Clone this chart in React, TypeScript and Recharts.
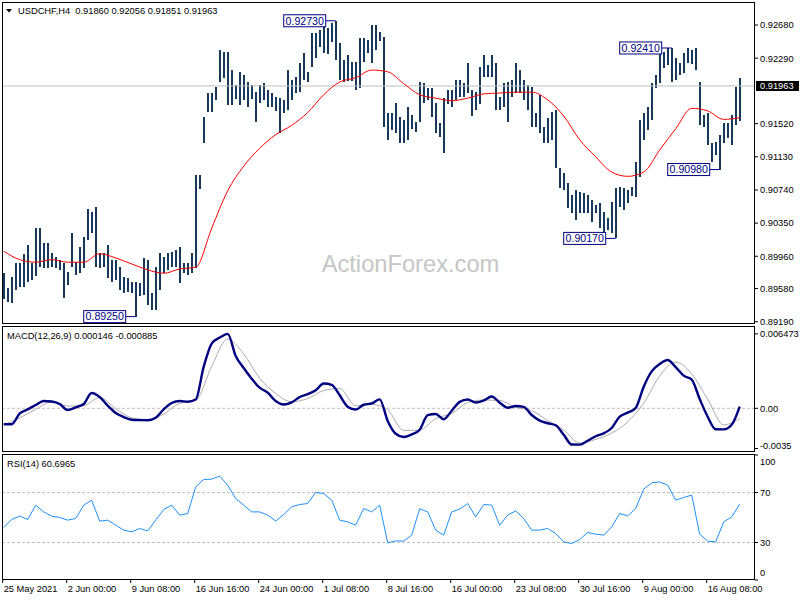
import React from 'react'
import { ComposedChart, Bar, Line, XAxis, YAxis, ReferenceLine, ReferenceDot } from 'recharts'

// H4 bars, merged in pairs (8h each)
const highs = [
  0.8976, 0.8959, 0.8972, 0.8988, 0.8988, 0.8999, 0.9009, 0.8988, 0.9029, 0.9029,
  0.9012, 0.9012, 0.9000, 0.8995, 0.8992, 0.8988, 0.8977, 0.9023, 0.8989, 0.9007,
  0.9019, 0.9052, 0.9048, 0.9054, 0.9000, 0.9000, 0.9009, 0.8992, 0.8992, 0.8983,
  0.8972, 0.8970, 0.8966, 0.8966, 0.8965, 0.8994, 0.8992, 0.8953, 0.8983, 0.9000,
  0.8995, 0.9000, 0.9001, 0.9003, 0.9007, 0.8988, 0.8988, 0.9000, 0.9092, 0.9092,
  0.9160, 0.9188, 0.9188, 0.9195, 0.9239, 0.9236, 0.9236, 0.9215, 0.9197, 0.9213,
  0.9209, 0.9201, 0.9197, 0.9189, 0.9197, 0.9200, 0.9192, 0.9188, 0.9183, 0.9182,
  0.9180, 0.9215, 0.9203, 0.9207, 0.9223, 0.9235, 0.9213, 0.9259, 0.9259, 0.9262,
  0.9272, 0.9265, 0.9270, 0.9273, 0.9247, 0.9227, 0.9233, 0.9225, 0.9225, 0.9253,
  0.9253, 0.9250, 0.9268, 0.9268, 0.9260, 0.9254, 0.9165, 0.9165, 0.9176, 0.9160,
  0.9156, 0.9172, 0.9162, 0.9154, 0.9201, 0.9200, 0.9194, 0.9194, 0.9176, 0.9153,
  0.9182, 0.9192, 0.9192, 0.9203, 0.9203, 0.9200, 0.9223, 0.9192, 0.9189, 0.9219,
  0.9233, 0.9221, 0.9233, 0.9223, 0.9183, 0.9200, 0.9201, 0.9203, 0.9223, 0.9215,
  0.9203, 0.9197, 0.9195, 0.9165, 0.9186, 0.9148, 0.9159, 0.9166, 0.9168, 0.9100,
  0.9094, 0.9082, 0.9068, 0.9074, 0.9072, 0.9070, 0.9068, 0.9062, 0.9056, 0.9059,
  0.9048, 0.9041, 0.9060, 0.9076, 0.9077, 0.9076, 0.9074, 0.9077, 0.9107, 0.9156,
  0.9165, 0.9172, 0.9200, 0.9209, 0.9235, 0.9236, 0.9241, 0.9241, 0.9229, 0.9223,
  0.9235, 0.9241, 0.9239, 0.9241, 0.9201, 0.9162, 0.9165, 0.9129, 0.9130, 0.9139,
  0.9153, 0.9153, 0.9162, 0.9195, 0.9206,
]

const lows = [
  0.8945, 0.8942, 0.8941, 0.8956, 0.8960, 0.8960, 0.8965, 0.8968, 0.8972, 0.8983,
  0.8983, 0.8983, 0.8983, 0.8982, 0.8980, 0.8947, 0.8962, 0.8983, 0.8974, 0.8976,
  0.8983, 0.9015, 0.9023, 0.8983, 0.8982, 0.8983, 0.8970, 0.8966, 0.8968, 0.8956,
  0.8953, 0.8953, 0.8953, 0.8925, 0.8950, 0.8950, 0.8939, 0.8933, 0.8933, 0.8956,
  0.8976, 0.8980, 0.8983, 0.8983, 0.8965, 0.8976, 0.8974, 0.8976, 0.8983, 0.9076,
  0.9129, 0.9166, 0.9166, 0.9180, 0.9201, 0.9206, 0.9174, 0.9174, 0.9180, 0.9174,
  0.9180, 0.9172, 0.9180, 0.9154, 0.9176, 0.9180, 0.9172, 0.9172, 0.9166, 0.9141,
  0.9165, 0.9168, 0.9180, 0.9188, 0.9189, 0.9203, 0.9201, 0.9219, 0.9230, 0.9242,
  0.9236, 0.9235, 0.9248, 0.9227, 0.9203, 0.9201, 0.9203, 0.9203, 0.9192, 0.9194,
  0.9225, 0.9235, 0.9223, 0.9239, 0.9250, 0.9148, 0.9133, 0.9145, 0.9141, 0.9129,
  0.9129, 0.9133, 0.9145, 0.9142, 0.9154, 0.9176, 0.9180, 0.9160, 0.9141, 0.9136,
  0.9117, 0.9176, 0.9172, 0.9180, 0.9183, 0.9183, 0.9188, 0.9162, 0.9168, 0.9176,
  0.9207, 0.9207, 0.9207, 0.9168, 0.9168, 0.9172, 0.9154, 0.9183, 0.9188, 0.9188,
  0.9180, 0.9168, 0.9148, 0.9148, 0.9141, 0.9129, 0.9130, 0.9133, 0.9100, 0.9077,
  0.9074, 0.9053, 0.9047, 0.9039, 0.9047, 0.9047, 0.9047, 0.9036, 0.9047, 0.9030,
  0.9023, 0.9027, 0.9023, 0.9017, 0.9054, 0.9050, 0.9059, 0.9066, 0.9066, 0.9089,
  0.9133, 0.9145, 0.9156, 0.9194, 0.9200, 0.9217, 0.9221, 0.9201, 0.9203, 0.9209,
  0.9212, 0.9223, 0.9223, 0.9215, 0.9150, 0.9148, 0.9127, 0.9107, 0.9115, 0.9098,
  0.9130, 0.9135, 0.9127, 0.9150, 0.9156,
]

// red moving average, one value every 4th merged bar
const maValues = [
  0.9002, 0.8992, 0.8989, 0.8992, 0.8989, 0.8989, 0.8999, 0.8994, 0.8987, 0.8980,
  0.8976, 0.8981, 0.8983, 0.9029, 0.9073, 0.9102, 0.9123, 0.9139, 0.9150, 0.9165,
  0.9186, 0.9201, 0.9206, 0.9215, 0.9213, 0.9199, 0.9186, 0.9182, 0.9179, 0.9182,
  0.9187, 0.9188, 0.9189, 0.9189, 0.9180, 0.9161, 0.9133, 0.9113, 0.9095, 0.9090,
  0.9095, 0.9121, 0.9146, 0.9170, 0.9167, 0.9157, 0.9159,
]

// MACD main line, one value every 2nd merged bar
const macdValues = [
  -0.00139, -0.00139, -0.00045, -0.00009, 0.00029, 0.00063, 0.00059, 0.00037, -0.00015, 0.00009,
  0.00037, 0.00133, 0.00098, 0.00023, -0.00041, -0.00076, -0.00099, -0.00102, -0.00104, -0.00082,
  -0.00009, 0.00046, 0.00063, 0.00057, 0.00076, 0.00362, 0.00563, 0.00615, 0.00647, 0.00455,
  0.00350, 0.00257, 0.00179, 0.00136, 0.00063, 0.00033, 0.00052, 0.00098, 0.00123, 0.00157,
  0.00216, 0.00204, 0.00113, 0.00014, -0.00011, 0.00031, 0.00042, 0.00078, -0.00110, -0.00221,
  -0.00250, -0.00227, -0.00186, -0.00060, -0.00050, -0.00095, -0.00021, 0.00056, 0.00077, 0.00050,
  0.00068, 0.00103, 0.00049, 0.00005, 0.00020, 0.00012, -0.00058, -0.00107, -0.00130, -0.00147,
  -0.00230, -0.00315, -0.00316, -0.00282, -0.00243, -0.00218, -0.00171, -0.00073, -0.00038, 0.00003,
  0.00188, 0.00321, 0.00385, 0.00420, 0.00358, 0.00284, 0.00250, 0.00081, -0.00073, -0.00182,
  -0.00183, -0.00143, 0.00015,
]

// MACD signal line, one value every 4th merged bar
const signalValues = [
  -0.00145, -0.00084, -0.00008, 0.00055, 0.00019, 0.00024, 0.00094, -0.00004, -0.00084, -0.00102,
  -0.00050, 0.00043, 0.00069, 0.00365, 0.00601, 0.00473, 0.00261, 0.00129, 0.00057, 0.00085,
  0.00154, 0.00172, 0.00021, 0.00034, -0.00014, -0.00193, -0.00189, -0.00089, -0.00045, 0.00050,
  0.00072, 0.00068, 0.00009, -0.00021, -0.00107, -0.00189, -0.00302, -0.00270, -0.00216, -0.00117,
  0.00044, 0.00282, 0.00402, 0.00298, 0.00078, -0.00144, -0.00089,
]

// RSI(14), one value every 2nd merged bar
const rsiValues = [
  42, 48.4, 51.1, 48.4, 59.9, 54.5, 51.1, 50, 47.9, 49.2,
  59.9, 63.9, 47.1, 47.9, 43.9, 39.9, 38.5, 41.2, 39.3, 47.9,
  56.4, 59.9, 51.9, 53.2, 74.5, 80.4, 80.7, 83.1, 75.9, 65.2,
  59.9, 54.5, 54.5, 51.9, 47.1, 52.4, 58.5, 60.4, 61.2, 70,
  69.2, 63.9, 47.9, 46.5, 43.9, 57.2, 54.5, 59.9, 29.7, 31.3,
  31.1, 35.9, 57, 54.5, 39.9, 35.9, 54.5, 56.7, 61.2, 50.5,
  60.4, 59.9, 43.9, 51.9, 55.3, 49.2, 39.9, 39.9, 41.2, 37.2,
  30.5, 29.2, 32.4, 38, 36.7, 35.9, 42.5, 53.2, 51.3, 57.2,
  72.7, 77.7, 78.5, 75.9, 63.9, 66, 67.9, 36.7, 31.1, 30.5,
  46.5, 50.5, 60.7,
]

const priceTicks = [0.8919, 0.8958, 0.8996, 0.9035, 0.9074, 0.9113, 0.9152, 0.9229, 0.9268]
const lastClose = 0.91963
const macdTicks = [-0.0035, 0, 0.006473]
const macdTickLabels = ['-0.0035', '0.00', '0.006473']
const rsiTicks = [0, 30, 70, 100]
const dateBars = [0, 32, 64, 96, 128, 160, 192, 224, 256, 288, 320, 352]
const dateLabels = [
  '25 May 2021', '2 Jun 00:00', '9 Jun 08:00', '16 Jun 16:00', '24 Jun 00:00', '1 Jul 08:00',
  '8 Jul 16:00', '16 Jul 00:00', '23 Jul 08:00', '30 Jul 16:00', '9 Aug 00:00', '16 Aug 08:00',
]
const swingBars = [166.5, 66.5, 306.5, 334.5, 358.5]
const swingPrices = [0.9273, 0.8925, 0.9017, 0.9241, 0.9098]

const priceRows = highs.map((h, j) => ({
  bar: 2 * j + 0.5,
  range: [lows[j], h],
  ma: j % 4 === 0 ? maValues[j / 4] : null,
}))

const macdRows = macdValues.map((v, k) => ({
  bar: 4 * k + 0.5,
  macd: v,
  signal: k % 2 === 0 ? signalValues[k / 2] : null,
}))

const rsiRows = rsiValues.map((v, k) => ({ bar: 4 * k + 0.5, rsi: v }))

const FONT = '"Liberation Sans", Arial, sans-serif'
const X_DOMAIN = [-0.35, 376.15]
const MARGIN = { left: 2, right: 0 }

// high-low bar drawn as a crisp 2px stroke
function HiLoBar({ x, y, width, height }: any) {
  const cx = Math.round(x + width / 2)
  return <rect x={cx - 1} y={Math.round(y)} width={2} height={Math.max(1, Math.round(height))} fill="#17395a" />
}

function PriceTick({ x, y, payload }: any) {
  return <text x={x} y={y} dy="0.36em" fontSize={9.3} fontFamily={FONT} fill="#000">{payload.value.toFixed(5)}</text>
}

function MacdTick({ x, y, payload }: any) {
  const i = macdTicks.indexOf(payload.value)
  const shift = payload.value < 0 ? -3 : 0
  return <text x={x} y={y + shift} dy="0.36em" fontSize={9.3} fontFamily={FONT} fill="#000">{macdTickLabels[i]}</text>
}

function RsiTick({ x, y, payload }: any) {
  const shift = payload.value === 100 ? 7 : payload.value === 0 ? -7.5 : 0
  return <text x={x} y={y + shift} dy="0.36em" fontSize={9.3} fontFamily={FONT} fill="#000">{payload.value}</text>
}

function DateTick({ x, y, payload }: any) {
  const i = dateBars.indexOf(payload.value)
  return <text x={x + 1} y={y} dy="0.72em" fontSize={9.3} fontFamily={FONT} fill="#000">{dateLabels[i]}</text>
}

function PriceTag({ viewBox }: any) {
  const right = viewBox.x + viewBox.width
  return (
    <g>
      <rect x={right + 1} y={viewBox.y - 5} width={43} height={10} fill="#000" />
      <text x={right + 5} y={viewBox.y} dy="0.36em" fontSize={9.3} fontFamily={FONT} fill="#fff">{lastClose.toFixed(5)}</text>
    </g>
  )
}

function SwingTag({ cx, cy, text }: any) {
  const w = 42
  const h = 12
  const right = cx - 10
  return (
    <g>
      <line x1={right} y1={cy} x2={cx} y2={cy} stroke="#000080" />
      <rect x={right - w} y={cy - h / 2} width={w} height={h} fill="#fff" stroke="#000080" />
      <text x={right - w / 2} y={cy} dy="0.36em" textAnchor="middle" fontSize={10.6} fontFamily={FONT} fill="#000080">{text}</text>
    </g>
  )
}

const box = (top: number, height: number): React.CSSProperties => ({
  position: 'absolute', left: 2, top, width: 753, height, border: '1px solid #000',
  boxSizing: 'border-box', pointerEvents: 'none',
})

const label = (left: number, top: number): React.CSSProperties => ({
  position: 'absolute', left, top, fontSize: 9.3, lineHeight: '12px', fontFamily: FONT,
  whiteSpace: 'nowrap', color: '#000',
})

export default function App() {
  return (
    <div style={{ position: 'absolute', left: 0, top: 0, width: 800, height: 600, background: '#fff', overflow: 'hidden' }}>
      <div style={{
        position: 'absolute', left: 410.5, top: 253, transform: 'translateX(-50%)', fontFamily: FONT,
        fontSize: 23.7, lineHeight: 1, color: '#c6c6c6', whiteSpace: 'nowrap',
      }}>ActionForex.com</div>

      <div style={{ position: 'absolute', left: 0, top: 0 }}>
        <ComposedChart width={800} height={326} data={priceRows} margin={{ ...MARGIN, top: 3, bottom: 3 }}>
          <XAxis type="number" dataKey="bar" domain={X_DOMAIN} allowDataOverflow hide />
          <YAxis orientation="right" width={45} domain={[0.89175, 0.92939]} allowDataOverflow ticks={priceTicks}
            interval={0} axisLine={false} tickSize={3} tickMargin={2} tickLine={{ stroke: '#000' }} tick={<PriceTick />} />
          <ReferenceLine y={lastClose} stroke="#c0c0c0" label={<PriceTag />} />
          <Bar dataKey="range" fill="#17395a" barSize={2} shape={<HiLoBar />} isAnimationActive={false} />
          <Line type="monotone" dataKey="ma" stroke="#ff0000" strokeWidth={1} dot={false} activeDot={false}
            connectNulls isAnimationActive={false} />
          {swingBars.map((b, i) => (
            <ReferenceDot key={b} x={b} y={swingPrices[i]}
              shape={(p: any) => <SwingTag cx={p.cx} cy={p.cy} text={swingPrices[i].toFixed(5)} />} />
          ))}
        </ComposedChart>
      </div>

      <div style={{ position: 'absolute', left: 0, top: 326 }}>
        <ComposedChart width={800} height={126} data={macdRows} margin={{ ...MARGIN, top: 1, bottom: 1 }}>
          <XAxis type="number" dataKey="bar" domain={X_DOMAIN} allowDataOverflow hide />
          <YAxis orientation="right" width={45} domain={[-0.003713, 0.00707]} allowDataOverflow ticks={macdTicks}
            interval={0} axisLine={false} tickSize={3} tickMargin={2} tickLine={{ stroke: '#000' }} tick={<MacdTick />} />
          <ReferenceLine y={0} stroke="#c0c0c0" strokeDasharray="3 2" />
          <Line type="monotone" dataKey="signal" stroke="#ababab" strokeWidth={1} dot={false} activeDot={false}
            connectNulls isAnimationActive={false} />
          <Line type="monotone" dataKey="macd" stroke="#000080" strokeWidth={2.4} dot={false} activeDot={false}
            isAnimationActive={false} />
        </ComposedChart>
      </div>

      <div style={{ position: 'absolute', left: 0, top: 454 }}>
        <ComposedChart width={800} height={146} data={rsiRows} margin={{ ...MARGIN, top: 1, bottom: 0 }}>
          <XAxis type="number" dataKey="bar" domain={X_DOMAIN} allowDataOverflow ticks={dateBars} interval={0}
            height={20} axisLine={false} tickSize={3} tickMargin={2} tickLine={{ stroke: '#000' }} tick={<DateTick />} />
          <YAxis orientation="right" width={45} domain={[0, 100]} allowDataOverflow ticks={rsiTicks}
            interval={0} axisLine={false} tickSize={3} tickMargin={2} tickLine={{ stroke: '#000' }} tick={<RsiTick />} />
          <ReferenceLine y={70} stroke="#c0c0c0" strokeDasharray="3 2" />
          <ReferenceLine y={30} stroke="#c0c0c0" strokeDasharray="3 2" />
          <Line type="linear" dataKey="rsi" stroke="#1e90ff" strokeWidth={1} dot={false} activeDot={false}
            isAnimationActive={false} />
        </ComposedChart>
      </div>

      <div style={box(2, 322)} />
      <div style={box(326, 126)} />
      <div style={box(454, 126)} />

      <svg style={{ position: 'absolute', left: 6, top: 9 }} width={7} height={4}>
        <polygon points="0,0 6,0 3,3.5" fill="#000" />
      </svg>
      <div style={label(18, 4.8)}>USDCHF,H4&nbsp; 0.91860 0.92056 0.91851 0.91963</div>
      <div style={label(7, 329.8)}>MACD(12,26,9) 0.000146 -0.000885</div>
      <div style={label(7, 458.1)}>RSI(14) 60.6965</div>
    </div>
  )
}
